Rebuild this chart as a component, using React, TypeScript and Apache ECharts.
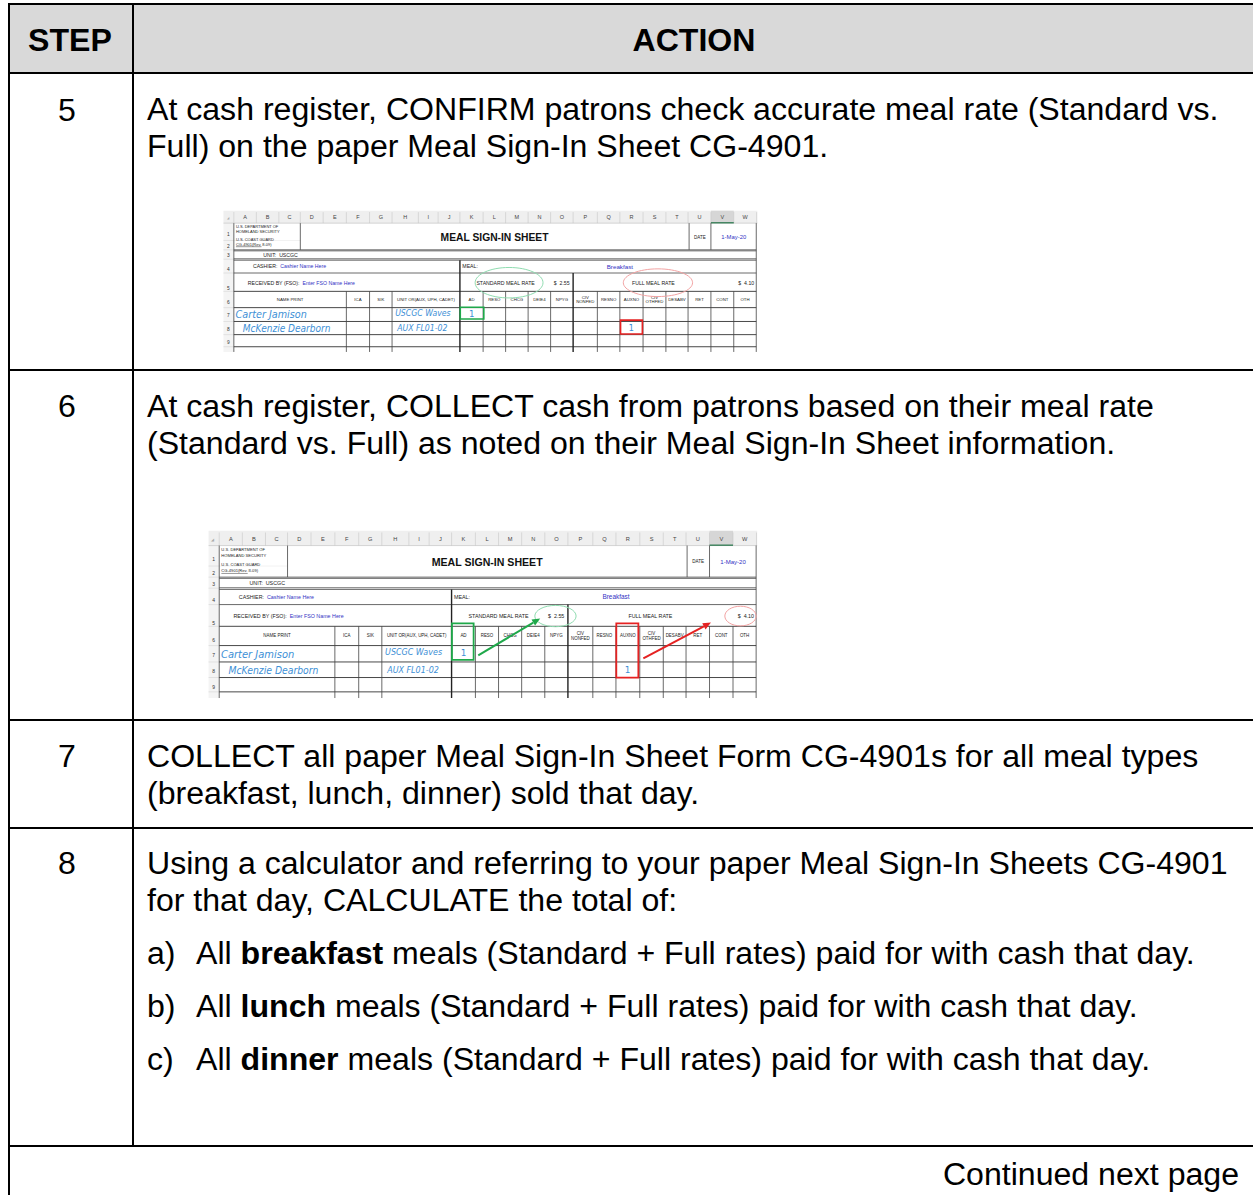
import React, { useEffect, useRef } from "react";
import * as echarts from "echarts";

const PAGE_W = 1253;
const PAGE_H = 1195;

const headerLabels = ["STEP", "ACTION"];
const stepNumbers = ["5", "6", "7", "8"];
const step5Lines = [
  "At cash register, CONFIRM patrons check accurate meal rate (Standard vs.",
  "Full) on the paper Meal Sign-In Sheet CG-4901.",
];
const step6Lines = [
  "At cash register, COLLECT cash from patrons based on their meal rate",
  "(Standard vs. Full) as noted on their Meal Sign-In Sheet information.",
];
const step7Lines = [
  "COLLECT all paper Meal Sign-In Sheet Form CG-4901s for all meal types",
  "(breakfast, lunch, dinner) sold that day.",
];
const step8Lines = [
  "Using a calculator and referring to your paper Meal Sign-In Sheets CG-4901",
  "for that day, CALCULATE the total of:",
];
const step8Markers = ["a)", "b)", "c)"];
const step8Meals = ["breakfast", "lunch", "dinner"];
const step8Tail = " meals (Standard + Full rates) paid for with cash that day.";
const footerText = "Continued next page";

// Meal sign-in sheet contents
const sheetColLetters = ["A", "B", "C", "D", "E", "F", "G", "H", "I", "J", "K", "L", "M", "N", "O", "P", "Q", "R", "S", "T", "U", "V", "W"];
const sheetColBounds = [40, 105, 170, 232, 298, 365, 432, 497, 573, 630, 693, 760, 825, 890, 955, 1020, 1090, 1155, 1222, 1288, 1352, 1418, 1484, 1550];
const sheetRowLabels = ["1", "2", "3", "4", "5", "6", "7", "8", "9"];
const sheetAgency = ["U.S. DEPARTMENT OF", "HOMELAND SECURITY", "U.S. COAST GUARD", "CG-4901(Rev. 8-09)"];
const sheetTitle = "MEAL SIGN-IN SHEET";
const sheetDate = ["DATE", "1-May-20"];
const sheetUnit = "UNIT:  USCGC";
const sheetCashier = ["CASHIER:", "Cashier Name Here"];
const sheetMeal = ["MEAL:", "Breakfast"];
const sheetReceived = ["RECEIVED BY (FSO):", "Enter FSO Name Here"];
const sheetRates = ["STANDARD MEAL RATE", "$  2.55", "FULL MEAL RATE", "$  4.10"];
const sheetHeaders = ["NAME PRINT", "ICA", "SIK", "UNIT OR(AUX, UPH, CADET)", "AD", "RESO", "CHCG", "DEIE4", "NPYG", "CIV\nNONFED", "RESNO", "AUXNO", "CIV\nOTHFED", "DESABV", "RET", "CONT", "OTH"];
const sheetNames = ["Carter Jamison", "McKenzie Dearborn"];
const sheetUnits = ["USCGC Waves", "AUX FL01-02"];
const sheetCounts = ["1", "1"];

const FONT = "'Liberation Sans', Arial, Helvetica, sans-serif";
const HAND = "'DejaVu Sans', 'Noto Sans', sans-serif";

function txt(text: string, x: number, y: number, size: number, o: any = {}) {
  return {
    type: "text",
    x,
    y,
    silent: true,
    z: o.z ?? 10,
    scaleX: o.scaleX ?? 1,
    style: {
      text,
      fontSize: size,
      fontFamily: o.family ?? FONT,
      fontWeight: o.bold ? "bold" : "normal",
      fontStyle: o.italic ? "italic" : "normal",
      fill: o.color ?? "#000",
      align: o.align ?? "left",
      textAlign: o.align ?? "left",
      verticalAlign: "middle",
      textVerticalAlign: "middle",
      rich: o.rich,
      lineHeight: o.lineHeight,
    },
  };
}

function buildSheet(ox: number, oy: number, sx: number, sy: number, variant: number) {
  const X = (p: number) => ox + p * sx;
  const Y = (p: number) => oy + p * sy;
  const els: any[] = [];
  const ln = (x1: number, y1: number, x2: number, y2: number, color: string, w: number, z = 5) =>
    els.push({ type: "line", silent: true, z, shape: { x1: X(x1), y1: Y(y1), x2: X(x2), y2: Y(y2) }, style: { stroke: color, lineWidth: w } });
  const fs = (n: number) => n * sx;
  const grey = "#444";
  const ink = "#222";
  const blue = "#3232c4";
  const hand = "#3d8fd6";

  els.push({ type: "rect", silent: true, z: 1, shape: { x: X(10), y: Y(2), width: X(1552) - X(10), height: Y(410) - Y(2) }, style: { fill: "#ffffff" } });
  els.push({ type: "rect", silent: true, z: 2, shape: { x: X(10), y: Y(2), width: X(1552) - X(10), height: Y(38) - Y(2) }, style: { fill: "#efefef" } });
  els.push({ type: "rect", silent: true, z: 2, shape: { x: X(10), y: Y(38), width: X(40) - X(10), height: Y(410) - Y(38) }, style: { fill: "#f4f4f4" } });
  els.push({ type: "rect", silent: true, z: 3, shape: { x: X(1418), y: Y(2), width: X(1484) - X(1418), height: Y(38) - Y(2) }, style: { fill: "#d6d6d6" } });
  ln(1418, 37, 1484, 37, "#217346", 1.2, 4);
  for (let i = 0; i < sheetColBounds.length; i++) {
    ln(sheetColBounds[i], 6, sheetColBounds[i], 38, "#c8c8c8", 0.6, 3);
  }
  for (let i = 0; i < sheetColLetters.length; i++) {
    const cx = (sheetColBounds[i] + sheetColBounds[i + 1]) / 2;
    els.push(txt(sheetColLetters[i], X(cx), Y(21), fs(16), { color: "#444", align: "center" }));
  }
  els.push(txt("◢", X(22), Y(24), fs(10), { color: "#aaa", align: "center" }));
  ln(10, 38, 1552, 38, "#bdbdbd", 0.6, 3);

  const rowLabelY = [70, 105, 131, 172, 226, 268, 304, 344, 382];
  const rowLineY = [88, 115, 142, 182, 235, 282, 322, 360, 395];
  rowLineY.forEach((yy) => ln(10, yy, 40, yy, "#cfcfcf", 0.5, 3));
  sheetRowLabels.forEach((l, i) => els.push(txt(l, X(24), Y(rowLabelY[i]), fs(14), { color: "#333", align: "center" })));

  ln(40, 88, 232, 88, "#e2e2e2", 0.5, 3);

  ln(40, 38, 40, 410, grey, 0.8);
  ln(1549, 38, 1549, 410, grey, 0.8);
  ln(232, 38, 232, 115, grey, 0.8);
  ln(1355, 38, 1355, 115, grey, 0.8);
  ln(1418, 38, 1418, 115, grey, 0.8);
  [115, 118, 141, 145, 182].forEach((yy) => ln(40, yy, 1549, yy, grey, 0.8));
  [235, 282, 322, 360, 395].forEach((yy) => ln(40, yy, 1549, yy, "#333", 0.9));
  ln(693, 145, 693, 410, "#222", 1.4);
  ln(1020, 182, 1020, 410, "#222", 1.4);
  [365, 432, 497, 760, 825, 890, 955, 1090, 1155, 1222, 1288, 1352, 1418, 1484].forEach((xx) =>
    ln(xx, 235, xx, 410, grey, 0.8)
  );

  const agencyY = [47, 62, 84, 100];
  sheetAgency.forEach((t, i) => els.push(txt(t, X(46), Y(agencyY[i]), fs(11.5), { color: ink })));
  ln(46, 106, 120, 106, "#333", 0.5);
  els.push(txt(sheetTitle, X(793), Y(78), fs(32), { bold: true, align: "center", color: "#111", scaleX: 0.93 }));
  els.push(txt(sheetDate[0], X(1386), Y(78), fs(13), { align: "center", color: ink }));
  els.push(txt(sheetDate[1], X(1484), Y(78), fs(17), { align: "center", color: blue }));

  els.push(txt(sheetUnit, X(125), Y(130), fs(15), { color: ink }));
  els.push(txt(`{k|${sheetCashier[0]}}  {v|${sheetCashier[1]}}`, X(95), Y(163), fs(15), {
    color: ink,
    rich: { k: { fontSize: fs(15), fill: ink, fontFamily: FONT }, v: { fontSize: fs(15), fill: blue, fontFamily: FONT } },
  }));
  els.push(txt(sheetMeal[0], X(700), Y(163), fs(15), { color: ink }));
  els.push(txt(sheetMeal[1], X(1155), Y(163), fs(18), { align: "center", color: blue }));
  els.push(txt(`{k|${sheetReceived[0]}}  {v|${sheetReceived[1]}}`, X(80), Y(211), fs(15), {
    color: ink,
    rich: { k: { fontSize: fs(15), fill: ink, fontFamily: FONT }, v: { fontSize: fs(15), fill: blue, fontFamily: FONT } },
  }));
  els.push(txt(sheetRates[0], X(825), Y(211), fs(15), { align: "center", color: ink }));
  els.push(txt(sheetRates[1], X(987), Y(211), fs(15), { align: "center", color: ink }));
  els.push(txt(sheetRates[2], X(1252), Y(211), fs(15), { align: "center", color: ink }));
  els.push(txt(sheetRates[3], X(1543), Y(211), fs(15), { align: "right", color: ink }));

  const hdrCols = [[40, 365], [365, 432], [432, 497], [497, 693], [693, 760], [760, 825], [825, 890], [890, 955], [955, 1020], [1020, 1090], [1090, 1155], [1155, 1222], [1222, 1288], [1288, 1352], [1352, 1418], [1418, 1484], [1484, 1549]];
  sheetHeaders.forEach((h, i) => {
    const cx = (hdrCols[i][0] + hdrCols[i][1]) / 2;
    els.push(txt(h, X(cx), Y(258), fs(12.5), { align: "center", color: ink, lineHeight: fs(13) }));
  });

  els.push(txt(sheetNames[0], X(45), Y(301), fs(31), { family: HAND, italic: true, color: hand, scaleX: 0.9 }));
  els.push(txt(sheetNames[1], X(66), Y(341), fs(31), { family: HAND, italic: true, color: hand, scaleX: 0.84 }));
  els.push(txt(sheetUnits[0], X(506), Y(298), fs(25), { family: HAND, italic: true, color: hand, scaleX: 0.9 }));
  els.push(txt(sheetUnits[1], X(512), Y(341), fs(25), { family: HAND, italic: true, color: hand, scaleX: 0.9 }));
  els.push(txt(sheetCounts[0], X(727), Y(300), fs(25), { family: HAND, color: hand, align: "center" }));
  els.push(txt(sheetCounts[1], X(1188), Y(341), fs(25), { family: HAND, color: hand, align: "center" }));

  const rect = (x1: number, y1: number, x2: number, y2: number, color: string, w: number) =>
    els.push({ type: "rect", silent: true, z: 20, shape: { x: X(x1), y: Y(y1), width: X(x2) - X(x1), height: Y(y2) - Y(y1) }, style: { fill: "none", stroke: color, lineWidth: w } });
  const ell = (cx: number, cy: number, rx: number, ry: number, color: string) =>
    els.push({ type: "ellipse", silent: true, z: 20, shape: { cx: X(cx), cy: Y(cy), rx: rx * sx, ry: ry * sy }, style: { fill: "none", stroke: color, lineWidth: 1 } });
  const arrow = (x1: number, y1: number, x2: number, y2: number, color: string) => {
    const ax = X(x1), ay = Y(y1), bx = X(x2), by = Y(y2);
    const ang = Math.atan2(by - ay, bx - ax);
    const L = 8, Wd = 3.5;
    const baseX = bx - L * Math.cos(ang), baseY = by - L * Math.sin(ang);
    els.push({ type: "line", silent: true, z: 21, shape: { x1: ax, y1: ay, x2: baseX, y2: baseY }, style: { stroke: color, lineWidth: 2 } });
    els.push({
      type: "polygon", silent: true, z: 21,
      shape: { points: [[bx, by], [baseX - Wd * Math.sin(ang), baseY + Wd * Math.cos(ang)], [baseX + Wd * Math.sin(ang), baseY - Wd * Math.cos(ang)]] },
      style: { fill: color },
    });
  };

  if (variant === 1) {
    ell(835, 210, 98, 44, "#8fdcb0");
    ell(1265, 210, 100, 40, "#f3a3a3");
    rect(694, 281, 762, 315, "#1fa84a", 1.6);
    rect(1157, 318, 1220, 358, "#e52222", 1.6);
  } else {
    ell(985, 210, 58, 26, "#8fdcb0");
    ell(1505, 210, 44, 24, "#f3a3a3");
    rect(694, 228, 755, 317, "#1fa84a", 1.8);
    rect(1156, 228, 1218, 360, "#e52222", 1.8);
    arrow(768, 306, 942, 216, "#1fa84a");
    arrow(1232, 313, 1422, 226, "#e52222");
  }
  return els;
}

function buildGraphics() {
  const els: any[] = [];
  const black = "#000";
  const L = (x1: number, y1: number, x2: number, y2: number, w = 2) =>
    els.push({ type: "line", silent: true, z: 30, shape: { x1, y1, x2, y2 }, style: { stroke: black, lineWidth: w } });

  const left = 8, divX = 132, right = 1253;
  const rowsY = [4, 73, 370, 720, 828, 1146];

  els.push({ type: "rect", silent: true, z: 0, shape: { x: 0, y: 0, width: PAGE_W, height: PAGE_H }, style: { fill: "#fff" } });
  els.push({ type: "rect", silent: true, z: 1, shape: { x: left, y: rowsY[0], width: right - left, height: rowsY[1] - rowsY[0] }, style: { fill: "#d9d9d9" } });

  rowsY.forEach((yy) => L(left, yy, right, yy));
  L(left + 1, rowsY[0] - 1, left + 1, PAGE_H);
  L(divX + 1, rowsY[0], divX + 1, rowsY[5]);

  const body = 32.1;
  els.push(txt(headerLabels[0], 70, 40, body, { bold: true, align: "center" }));
  els.push(txt(headerLabels[1], 694, 40, body, { bold: true, align: "center" }));

  const numY = [110, 406, 756, 863];
  stepNumbers.forEach((n, i) => els.push(txt(n, 67, numY[i], body, { align: "center" })));

  const tx = 147;
  const addLines = (lines: string[], y0: number) => lines.forEach((l, i) => els.push(txt(l, tx, y0 + i * 36.8, body)));
  addLines(step5Lines, 109);
  addLines(step6Lines, 406);
  addLines(step7Lines, 756);
  addLines(step8Lines, 863);

  const itemY = [953, 1006, 1059];
  step8Markers.forEach((m, i) => {
    els.push(txt(m, tx, itemY[i], body));
    els.push(txt(`All {b|${step8Meals[i]}}${step8Tail}`, 196, itemY[i], body, {
      rich: { b: { fontWeight: "bold", fontSize: body, fontFamily: FONT, fill: black } },
    }));
  });

  els.push(txt(footerText, 1239, 1174, body, { align: "right" }));

  els.push(...buildSheet(220, 210, 0.3462, 0.3462, 1));
  els.push(...buildSheet(205, 530, 0.3558, 0.4098, 2));
  return els;
}

export default function App() {
  const ref = useRef<HTMLDivElement>(null);
  useEffect(() => {
    document.body.style.margin = "0";
    document.body.style.overflow = "hidden";
    if (!ref.current) return;
    const chart = echarts.init(ref.current, undefined, { renderer: "svg" });
    chart.setOption({
      animation: false,
      backgroundColor: "#ffffff",
      graphic: { elements: buildGraphics() },
    });
    return () => chart.dispose();
  }, []);
  return <div ref={ref} style={{ width: PAGE_W, height: PAGE_H, position: "absolute", left: 0, top: 0 }} />;
}
